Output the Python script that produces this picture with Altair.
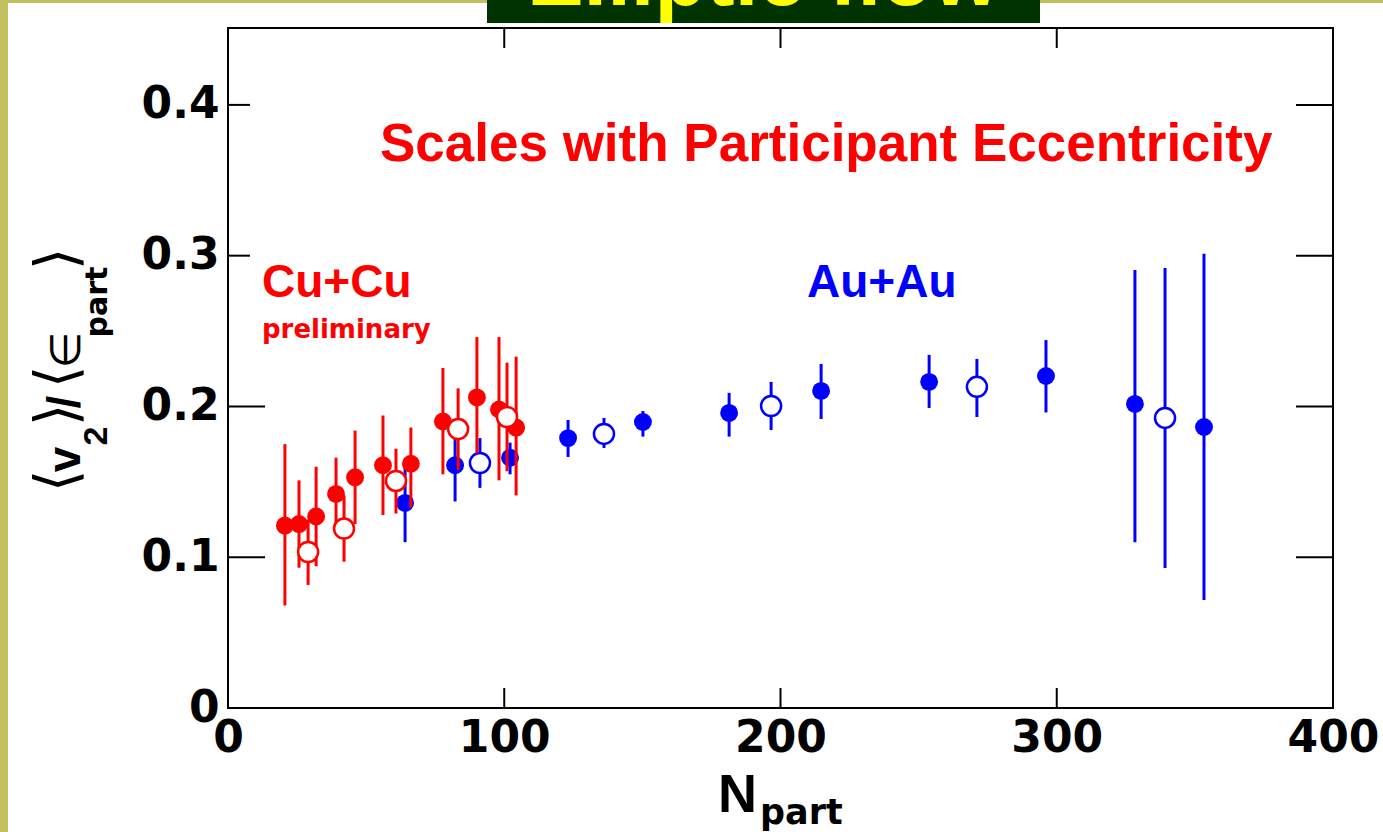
import altair as alt
import pandas as pd

# ---------------- data ----------------
cu_filled_npart = [20.6, 25.7, 31.9, 39.1, 46.0, 56.1, 66.2, 77.8, 90.1, 98.1, 104.3]
cu_filled_v     = [0.121, 0.122, 0.127, 0.142, 0.153, 0.161, 0.162, 0.190, 0.206, 0.198, 0.186]
cu_filled_lo    = [0.068, 0.093, 0.094, 0.118, 0.122, 0.128, 0.133, 0.155, 0.169, 0.151, 0.141]
cu_filled_hi    = [0.175, 0.151, 0.160, 0.166, 0.184, 0.194, 0.186, 0.2255, 0.246, 0.246, 0.233]

cu_open_npart = [29.0, 42.0, 60.8, 83.3, 101.0]
cu_open_v     = [0.1035, 0.119, 0.1506, 0.185, 0.193]
cu_open_lo    = [0.0816, 0.097, 0.129, 0.158, 0.157]
cu_open_hi    = [0.125, 0.141, 0.172, 0.212, 0.229]

au_filled_npart = [64.1, 82.2, 102.1, 123.1, 150.2, 181.4, 214.7, 253.8, 296.1, 328.3, 353.3]
au_filled_v     = [0.136, 0.161, 0.166, 0.179, 0.1897, 0.1957, 0.2103, 0.2163, 0.2202, 0.2017, 0.1864]
au_filled_lo    = [0.110, 0.137, 0.155, 0.1665, 0.180, 0.180, 0.1917, 0.199, 0.196, 0.110, 0.0716]
au_filled_hi    = [0.162, 0.184, 0.176, 0.191, 0.197, 0.209, 0.2282, 0.2342, 0.244, 0.2905, 0.3012]

au_open_npart = [91.2, 136.1, 196.6, 271.1, 339.2]
au_open_v     = [0.1625, 0.1818, 0.2003, 0.213, 0.1924]
au_open_lo    = [0.146, 0.1725, 0.1844, 0.193, 0.0929]
au_open_hi    = [0.179, 0.1924, 0.2163, 0.2315, 0.2919]

x_ticks = [0, 100, 200, 300, 400]
y_ticks = [0, 0.1, 0.2, 0.3, 0.4]
x_inner_ticks = [100, 200, 300]
y_left_long_ticks = [0.1, 0.2]
y_left_short_ticks = [0.3, 0.4]
y_right_ticks = [0.1, 0.2, 0.3, 0.4]

RED = "#ff0000"
BLUE = "#0000ff"
W, H = 1105, 680


def frame(n, v, lo, hi):
    return pd.DataFrame({"npart": n, "v": v, "lo": lo, "hi": hi})


cu_f = frame(cu_filled_npart, cu_filled_v, cu_filled_lo, cu_filled_hi)
cu_o = frame(cu_open_npart, cu_open_v, cu_open_lo, cu_open_hi)
au_f = frame(au_filled_npart, au_filled_v, au_filled_lo, au_filled_hi)
au_o = frame(au_open_npart, au_open_v, au_open_lo, au_open_hi)

xs = alt.Scale(domain=[0, 400], nice=False, zero=False)
ys = alt.Scale(domain=[0, 0.451], nice=False, zero=False)
xaxis = alt.Axis(values=x_ticks, labelFlush=False, labelPadding=8, title="")
yaxis = alt.Axis(values=y_ticks, labelPadding=9, title="",
                 labelExpr="datum.value == 0 ? '0' : format(datum.value, '.1f')")


def X(f):
    return alt.X(f"{f}:Q", scale=xs, axis=xaxis)


def Y(f):
    return alt.Y(f"{f}:Q", scale=ys, axis=yaxis)


def bars(df, color):
    return alt.Chart(df).mark_rule(color=color, strokeWidth=3).encode(
        x=X("npart"), y=Y("lo"), y2="hi")


def filled_pts(df, color):
    return alt.Chart(df).mark_point(shape="circle", filled=True, size=320,
                                    opacity=1, color=color).encode(x=X("npart"), y=Y("v"))


def open_pts(df, color):
    return alt.Chart(df).mark_point(shape="circle", fill="white", stroke=color,
                                    strokeWidth=2.5, size=400, opacity=1,
                                    fillOpacity=1).encode(x=X("npart"), y=Y("v"))


def one():
    return pd.DataFrame({"t": [""]})


def deco_rect(x1, x2, y1, y2, color):
    return alt.Chart(one()).mark_rect(color=color).encode(
        x=alt.value(x1), x2=alt.value(x2), y=alt.value(y1), y2=alt.value(y2))


def label(t, x, y, size, font, weight="normal", color="black", angle=0,
          align="left", baseline="alphabetic"):
    return alt.Chart(pd.DataFrame({"t": [t]})).mark_text(
        fontSize=size, font=font, fontWeight=weight, color=color, angle=angle,
        align=align, baseline=baseline).encode(
        x=alt.value(x), y=alt.value(y), text="t:N")


def data_label(t, n, v, size, font, color, weight="bold"):
    return alt.Chart(pd.DataFrame({"t": [t], "npart": [n], "v": [v]})).mark_text(
        fontSize=size, font=font, fontWeight=weight, color=color,
        align="left", baseline="alphabetic").encode(x=X("npart"), y=Y("v"), text="t:N")


# ---- decorations of the slide ----
OLIVE = "#c4c060"
deco = [
    deco_rect(-228, -220, -28, 804, OLIVE),
    deco_rect(-228, 1155, -28, -25, OLIVE),
    deco_rect(259, 812, -28, -5, "#003300"),
    label("Elliptic flow", 535, -23, 85, "Liberation Sans", "bold", "#ffff00",
          align="center"),
]

# ---- inner ticks ----
tick_x = pd.DataFrame({"npart": x_inner_ticks})
ticks = [
    alt.Chart(tick_x).mark_rule(color="black", strokeWidth=2).encode(
        x=X("npart"), y=alt.value(H), y2=alt.value(H - 20)),
    alt.Chart(tick_x).mark_rule(color="black", strokeWidth=2).encode(
        x=X("npart"), y=alt.value(0), y2=alt.value(20)),
    alt.Chart(pd.DataFrame({"v": y_left_long_ticks})).mark_rule(color="black", strokeWidth=2).encode(
        y=Y("v"), x=alt.value(0), x2=alt.value(37)),
    alt.Chart(pd.DataFrame({"v": y_left_short_ticks})).mark_rule(color="black", strokeWidth=2).encode(
        y=Y("v"), x=alt.value(0), x2=alt.value(22)),
    alt.Chart(pd.DataFrame({"v": y_right_ticks})).mark_rule(color="black", strokeWidth=2).encode(
        y=Y("v"), x=alt.value(W), x2=alt.value(W - 37)),
]

series = [
    bars(au_f, BLUE), bars(au_o, BLUE), filled_pts(au_f, BLUE), open_pts(au_o, BLUE),
    bars(cu_f, RED), bars(cu_o, RED), filled_pts(cu_f, RED), open_pts(cu_o, RED),
]

annotations = [
    data_label("Scales with Participant Eccentricity", 55.0, 0.3629, 53, "Liberation Sans", RED),
    data_label("Cu+Cu", 12.3, 0.2726, 46, "Liberation Sans", RED),
    data_label("preliminary", 12.3, 0.2454, 26, "DejaVu Sans", RED),
    data_label("Au+Au", 209.6, 0.2726, 46, "Liberation Sans", BLUE),
]

# ---- axis titles built from pieces (for subscripts) ----
MB = -148   # main baseline (rotated)
BB = -152   # bracket baseline
SB = -121   # subscript baseline
ytitle = [
    label("⟨", BB, 453, 58, "DejaVu Sans", angle=270, align="center"),
    label("v", MB, 431.5, 46, "Liberation Sans", "bold", angle=270, align="center"),
    label("2", SB, 408, 34, "Liberation Sans", "bold", angle=270, align="center"),
    label("⟩", BB, 387, 58, "DejaVu Sans", angle=270, align="center"),
    label("/", MB, 374, 46, "Liberation Sans", "bold", angle=270, align="center"),
    label("⟨", BB, 349, 58, "DejaVu Sans", angle=270, align="center"),
    label("∈", MB, 322, 42, "DejaVu Sans", angle=270, align="center"),
    label("part", SB, 274, 30, "DejaVu Sans", "bold", angle=270, align="center"),
    label("⟩", BB, 231, 58, "DejaVu Sans", angle=270, align="center"),
]
xtitle = [
    label("N", 490, 784, 54, "Liberation Sans", "bold"),
    label("part", 532, 796, 35, "DejaVu Sans", "bold"),
]

chart = alt.layer(*(deco + ticks + series + annotations + ytitle + xtitle)).properties(
    width=W, height=H,
    autosize=alt.AutoSizeParams(type="none"),
    padding={"left": 228, "top": 28, "right": 50, "bottom": 124},
    background="white",
).configure_view(
    stroke="black", strokeWidth=2
).configure_axis(
    grid=False, domain=False, ticks=False,
    labelFont="DejaVu Sans", labelFontWeight="bold", labelFontSize=44, labelColor="black",
)

chart.save("out.html", embed_options={"renderer": "svg", "actions": False})
